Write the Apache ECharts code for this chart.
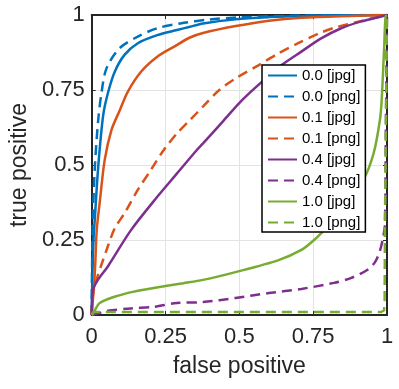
<!DOCTYPE html>
<html>
<head>
<meta charset="utf-8">
<script src="https://cdn.jsdelivr.net/npm/echarts@6/dist/echarts.min.js"></script>
<style>
  html, body { margin: 0; padding: 0; background: #fff; }
  #chart { width: 399px; height: 389px; }
</style>
</head>
<body>
<div id="chart"></div>
<script>
// ROC 曲线数据
const tickValues = [0, 0.25, 0.5, 0.75, 1];

const fpJpg00 = [0, 0.002, 0.006, 0.011, 0.022, 0.039, 0.056, 0.078, 0.111, 0.156, 0.222, 0.289, 0.333, 0.377, 0.488, 0.6, 0.71, 0.85, 1];
const tpJpg00 = [0, 0.12, 0.25, 0.328, 0.494, 0.667, 0.744, 0.811, 0.867, 0.906, 0.933, 0.95, 0.961, 0.972, 0.986, 0.993, 0.997, 0.999, 1];

const fpPng00 = [0, 0.001, 0.004, 0.011, 0.022, 0.033, 0.05, 0.094, 0.156, 0.222, 0.3, 0.4, 0.5, 0.7, 1];
const tpPng00 = [0, 0.15, 0.33, 0.5, 0.65, 0.74, 0.822, 0.889, 0.928, 0.956, 0.972, 0.985, 0.992, 0.998, 1];

const fpJpg01 = [0, 0.003, 0.008, 0.012, 0.017, 0.028, 0.044, 0.067, 0.094, 0.122, 0.167, 0.222, 0.278, 0.333, 0.377, 0.488, 0.6, 0.71, 0.877, 1];
const tpJpg01 = [0, 0.04, 0.1, 0.17, 0.283, 0.383, 0.517, 0.617, 0.68, 0.744, 0.811, 0.861, 0.894, 0.925, 0.94, 0.963, 0.981, 0.991, 0.997, 1];

const fpPng01 = [0, 0.003, 0.016, 0.032, 0.055, 0.078, 0.111, 0.156, 0.2, 0.244, 0.289, 0.333, 0.377, 0.432, 0.488, 0.566, 0.632, 0.699, 0.771, 0.82, 0.933, 1];
const tpPng01 = [0, 0.06, 0.117, 0.165, 0.23, 0.289, 0.339, 0.417, 0.483, 0.55, 0.606, 0.65, 0.695, 0.75, 0.789, 0.833, 0.872, 0.906, 0.939, 0.957, 0.985, 1];

const fpJpg04 = [0, 0.001, 0.004, 0.021, 0.054, 0.133, 0.222, 0.289, 0.356, 0.377, 0.443, 0.51, 0.577, 0.643, 0.71, 0.777, 0.843, 0.91, 0.96, 1];
const tpJpg04 = [0, 0.04, 0.083, 0.117, 0.161, 0.283, 0.394, 0.472, 0.55, 0.572, 0.644, 0.717, 0.778, 0.833, 0.878, 0.922, 0.955, 0.978, 0.99, 1];

const fpPng04 = [0, 0.03, 0.054, 0.132, 0.21, 0.288, 0.377, 0.487, 0.6, 0.71, 0.82, 0.877, 0.933, 0.96, 0.977, 0.987, 0.993, 0.996, 1];
const tpPng04 = [0, 0.008, 0.014, 0.022, 0.027, 0.04, 0.043, 0.057, 0.073, 0.087, 0.107, 0.123, 0.15, 0.177, 0.217, 0.26, 0.3, 0.6, 1];

const fpJpg10 = [0, 0.004, 0.01, 0.027, 0.077, 0.143, 0.21, 0.31, 0.377, 0.487, 0.633, 0.71, 0.753, 0.787, 0.82, 0.877, 0.92, 0.955, 0.976, 0.982, 0.99, 0.995, 1];
const tpJpg10 = [0, 0.005, 0.015, 0.04, 0.061, 0.078, 0.09, 0.106, 0.117, 0.143, 0.183, 0.217, 0.25, 0.283, 0.317, 0.397, 0.45, 0.54, 0.65, 0.717, 0.883, 0.993, 1];

const fpPng10 = [0, 0.005, 0.5, 0.98, 0.99, 0.992, 0.993, 1];
const tpPng10 = [0, 0.01, 0.01, 0.01, 0.015, 0.05, 0.3, 1];

const seriesNames = ['0.0 [jpg]', '0.0 [png]', '0.1 [jpg]', '0.1 [png]', '0.4 [jpg]', '0.4 [png]', '1.0 [jpg]', '1.0 [png]'];
const seriesFp = [fpJpg00, fpPng00, fpJpg01, fpPng01, fpJpg04, fpPng04, fpJpg10, fpPng10];
const seriesTp = [tpJpg00, tpPng00, tpJpg01, tpPng01, tpJpg04, tpPng04, tpJpg10, tpPng10];

// MATLAB 默认配色
const lineColors = ['#0072BD', '#0072BD', '#D95319', '#D95319', '#7E2F8E', '#7E2F8E', '#77AC30', '#77AC30'];

const fontFamily = '"Liberation Sans", Arial, sans-serif';
const axisColor = '#262626';

function pairs(xs, ys) {
    return xs.map((x, i) => [x, ys[i]]);
}

const series = seriesNames.map((name, i) => ({
    name: name,
    type: 'line',
    data: pairs(seriesFp[i], seriesTp[i]),
    symbol: 'none',
    // 最后一条几乎贴边，用折线；其余平滑
    smooth: i === 7 ? false : 0.3,
    lineStyle: {
        color: lineColors[i],
        width: 2.5,
        type: i % 2 === 1 ? [10, 6] : 'solid'
    },
    itemStyle: { color: lineColors[i] },
    animation: false
}));

// 边框轴（上、右），只画刻度
function boxAxis(position) {
    return {
        type: 'value',
        position: position,
        min: 0, max: 1, interval: 0.25,
        axisLine: { show: true, onZero: false, lineStyle: { color: axisColor, width: 2 } },
        axisTick: { show: true, inside: true, length: 4, lineStyle: { color: axisColor, width: 1 } },
        axisLabel: { show: false },
        splitLine: { show: false }
    };
}

const chart = echarts.init(document.getElementById('chart'));

const option = {
    backgroundColor: '#fff',
    animation: false,
    grid: { left: 87, top: 15, width: 300, height: 300, containLabel: false },
    legend: {
        orient: 'vertical',
        left: 262,
        top: 65,
        data: seriesNames,
        itemWidth: 29,
        itemHeight: 14,
        itemGap: 6,
        padding: [3, 5, 2, 5],
        backgroundColor: '#fff',
        borderColor: '#000',
        borderWidth: 1.5,
        borderRadius: 0,
        itemStyle: { opacity: 0 },
        textStyle: { fontSize: 15, color: '#000', fontFamily: fontFamily }
    },
    xAxis: [
        {
            type: 'value',
            min: 0, max: 1, interval: 0.25,
            name: 'false positive',
            nameLocation: 'middle',
            nameGap: 40,
            nameTextStyle: { fontSize: 23, color: axisColor, fontFamily: fontFamily },
            axisLine: { show: true, onZero: false, lineStyle: { color: axisColor, width: 2 } },
            axisTick: { show: true, inside: true, length: 4, lineStyle: { color: axisColor, width: 1 } },
            axisLabel: { show: true, margin: 11, fontSize: 22, color: axisColor, fontFamily: fontFamily,
                formatter: v => tickValues.includes(v) ? String(v) : '' },
            splitLine: { show: true, lineStyle: { color: '#e3e3e3', width: 1 } }
        },
        boxAxis('top')
    ],
    yAxis: [
        {
            type: 'value',
            min: 0, max: 1, interval: 0.25,
            name: 'true positive',
            nameLocation: 'middle',
            nameGap: 50,
            nameTextStyle: { fontSize: 23, color: axisColor, fontFamily: fontFamily },
            axisLine: { show: true, onZero: false, lineStyle: { color: axisColor, width: 2 } },
            axisTick: { show: true, inside: true, length: 4, lineStyle: { color: axisColor, width: 1 } },
            axisLabel: { show: true, margin: 7, fontSize: 22, color: axisColor, fontFamily: fontFamily },
            splitLine: { show: true, lineStyle: { color: '#e3e3e3', width: 1 } }
        },
        boxAxis('right')
    ],
    series: series
};

chart.setOption(option);
</script>
</body>
</html>
